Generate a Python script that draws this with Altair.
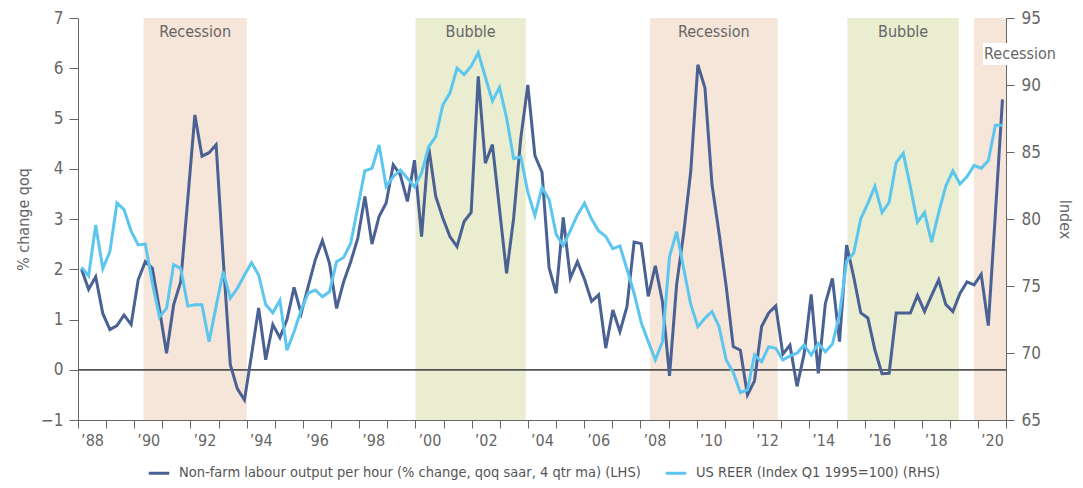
import altair as alt
import pandas as pd

# Non-farm labour output per hour (% change, qoq saar, 4 qtr ma), quarterly from 1988 Q1
labour = [2.0, 1.6, 1.85, 1.12, 0.8, 0.88, 1.09, 0.9, 1.79, 2.15,
          2.02, 1.2, 0.33, 1.29, 1.75, 3.4, 5.07, 4.25, 4.32, 4.48,
          2.2, 0.1, -0.38, -0.6, 0.3, 1.23, 0.2, 0.9, 0.64, 1.0,
          1.64, 1.12, 1.66, 2.19, 2.57, 2.12, 1.22, 1.75, 2.15, 2.62,
          3.45, 2.5, 3.05, 3.32, 4.08, 3.88, 3.35, 4.17, 2.65, 4.44,
          3.45, 3.02, 2.65, 2.45, 2.95, 3.13, 5.84, 4.11, 4.48, 3.2,
          1.92, 3.02, 4.6, 5.67, 4.26, 3.93, 2.03, 1.52, 3.03, 1.82,
          2.15, 1.8, 1.36, 1.49, 0.43, 1.19, 0.76, 1.26, 2.54, 2.51,
          1.46, 2.07, 1.36, -0.12, 1.69, 2.72, 3.95, 6.07, 5.61, 3.68,
          2.71, 1.66, 0.46, 0.39, -0.5, -0.22, 0.86, 1.13, 1.27, 0.31,
          0.49, -0.33, 0.31, 1.5, -0.07, 1.32, 1.82, 0.56, 2.48, 1.85,
          1.13, 1.03, 0.39, -0.08, -0.07, 1.13, 1.13, 1.13, 1.48, 1.16,
          1.48, 1.79, 1.3, 1.16, 1.52, 1.75, 1.69, 1.9, 0.88, 3.1,
          5.38]

# US REER (Index Q1 1995=100), quarterly from 1988 Q1
reer = [76.4, 75.75, 79.55, 76.3, 77.56, 81.2, 80.7, 79.1, 78.06, 78.13,
        75.2, 72.7, 73.33, 76.6, 76.3, 73.5, 73.6, 73.6, 70.84, 73.5,
        76.07, 74.08, 74.83, 75.82, 76.74, 75.82, 73.62, 73.0, 73.93, 70.2,
        71.59, 73.21, 74.46, 74.7, 74.2, 74.57, 76.81, 77.13, 78.19, 80.9,
        83.6, 83.78, 85.52, 82.41, 83.16, 83.66, 83.04, 82.41, 83.41, 85.4,
        86.14, 88.51, 89.4, 91.25, 90.78, 91.4, 92.41, 90.6, 88.8, 89.83,
        87.55, 84.5, 84.65, 82.0, 80.25, 82.36, 81.45, 78.85, 78.03, 79.14,
        80.3, 81.17, 80.0, 79.1, 78.7, 77.78, 77.99, 76.25, 74.46, 72.28,
        70.85, 69.48, 70.84, 77.19, 79.05, 76.3, 73.62, 71.96, 72.59, 73.1,
        71.96, 69.48, 68.55, 67.05, 67.24, 69.85, 69.35, 70.47, 70.35, 69.48,
        69.78, 69.98, 70.6, 69.85, 70.7, 70.1, 70.67, 72.9, 76.85, 77.46,
        80.02, 81.17, 82.45, 80.48, 81.25, 84.2, 84.9, 82.4, 79.76, 80.48,
        78.27, 80.5, 82.46, 83.6, 82.61, 83.16, 84.0, 83.78, 84.34, 87.0,
        87.0]

# shaded periods (decimal years)
period_start = [1990.33, 2000.0, 2008.34, 2015.36, 2019.86]
period_end = [1994.0, 2003.92, 2012.88, 2019.32, 2021.0]
period_kind = ["Recession", "Bubble", "Recession", "Bubble", "Recession"]
period_label = ["Recession", "Bubble", "Recession", "Bubble", ""]

year_ticks = list(range(1988, 2022))
left_ticks = list(range(-1, 8))
right_ticks = list(range(65, 96, 5))

dark_label = "Non-farm labour output per hour (% change, qoq saar, 4 qtr ma) (LHS)"
light_label = "US REER (Index Q1 1995=100) (RHS)"

DARK = "#4a6194"
LIGHT = "#5cc6ee"
REC = "#f6e5d9"
BUB = "#eaedcf"
GRAY = "#666666"
FONT = "Liberation Sans Narrow, DejaVu Sans Condensed, sans-serif"

n = len(labour)
# the source spreads its quarterly observations evenly across the 1988-2021 axis
t = [1988 + (i + 0.5) * 33 / n for i in range(n)]

df_dark = pd.DataFrame({"t": t, "v": labour, "series": dark_label})
df_light = pd.DataFrame({"t": t, "r": reer, "series": light_label})
df_per = pd.DataFrame({"start": period_start, "end": period_end,
                       "kind": period_kind, "label": period_label})

xscale = alt.Scale(domain=[1988, 2021], nice=False, zero=False)
yscale_l = alt.Scale(domain=[-1, 7], nice=False, zero=False)
yscale_r = alt.Scale(domain=[65, 95], nice=False, zero=False)
color_scale = alt.Scale(domain=[dark_label, light_label], range=[DARK, LIGHT])

x_axis = alt.Axis(
    values=year_ticks,
    labelExpr="datum.value % 2 == 0 ? '\u2019' + substring(toString(datum.value), 2, 4) : ''",
    labelOffset=14, labelOverlap=False, labelFlush=False,
    tickSize=8, labelPadding=4, labelFontSize=16, title=None,
)
yl_axis = alt.Axis(
    values=left_ticks, title="% change qoq", tickSize=9, labelPadding=6,
    titlePadding=9, labelFontSize=17, titleFontSize=16,
)
yr_axis = alt.Axis(
    orient="right", values=right_ticks, title="Index", tickSize=8, labelPadding=7,
    titlePadding=16, labelFontSize=17, titleFontSize=16,
)

rects = alt.Chart(df_per).mark_rect().encode(
    x=alt.X("start:Q", scale=xscale, axis=x_axis),
    x2="end:Q",
    y=alt.YDatum(7, type="quantitative", scale=yscale_l, axis=yl_axis),
    y2=alt.Y2Datum(-1),
    fill=alt.Fill("kind:N", scale=alt.Scale(domain=["Recession", "Bubble"], range=[REC, BUB]), legend=None),
)

zero = alt.Chart(df_per).mark_rule(color="#555555", strokeWidth=1).encode(
    y=alt.YDatum(0, type="quantitative", scale=yscale_l, axis=yl_axis),
)

period_text = alt.Chart(df_per).transform_calculate(
    mid="(datum.start + datum.end) / 2"
).mark_text(fontSize=16, color=GRAY, font=FONT, baseline="middle").encode(
    x=alt.X("mid:Q", scale=xscale, axis=x_axis),
    y=alt.value(14),
    text="label:N",
)

box = alt.Chart(df_per.head(1)).mark_rect(fill="white").encode(
    x=alt.value(905), x2=alt.value(977), y=alt.value(25), y2=alt.value(47),
)
box_text = alt.Chart(df_per.head(1)).mark_text(
    fontSize=16, color=GRAY, font=FONT, baseline="middle"
).encode(x=alt.value(942), y=alt.value(36), text=alt.value("Recession"))

dark = alt.Chart(df_dark).mark_line(strokeWidth=3).encode(
    x=alt.X("t:Q", scale=xscale, axis=x_axis),
    y=alt.Y("v:Q", scale=yscale_l, axis=yl_axis),
    color=alt.Color("series:N", scale=color_scale, legend=alt.Legend(
        title=None, orient="none", legendX=69, legendY=443, direction="horizontal",
        symbolType="stroke", symbolStrokeWidth=3, symbolSize=420,
        labelFontSize=14.5, labelLimit=700, columnPadding=18, labelOffset=8,
        labelColor="#555555", labelFont=FONT)),
)

light = alt.Chart(df_light).mark_line(strokeWidth=3).encode(
    x=alt.X("t:Q", scale=xscale, axis=x_axis),
    y=alt.Y("r:Q", scale=yscale_r, axis=yr_axis),
    color=alt.Color("series:N", scale=color_scale),
)

left = alt.layer(rects, zero, dark, period_text, box, box_text)
chart = alt.layer(left, light).resolve_scale(y="independent").properties(
    width=928, height=402,
    autosize=alt.AutoSizeParams(type="none"),
    padding={"left": 70, "top": 10, "right": 69, "bottom": 60},
).configure(font=FONT).configure_axis(
    grid=False, domainColor=GRAY, tickColor=GRAY, labelColor=GRAY, titleColor=GRAY,
    labelFont=FONT, titleFont=FONT, titleFontWeight="normal",
).configure_view(stroke=None)

chart.save("out.html", embed_options={"renderer": "svg", "actions": False})
